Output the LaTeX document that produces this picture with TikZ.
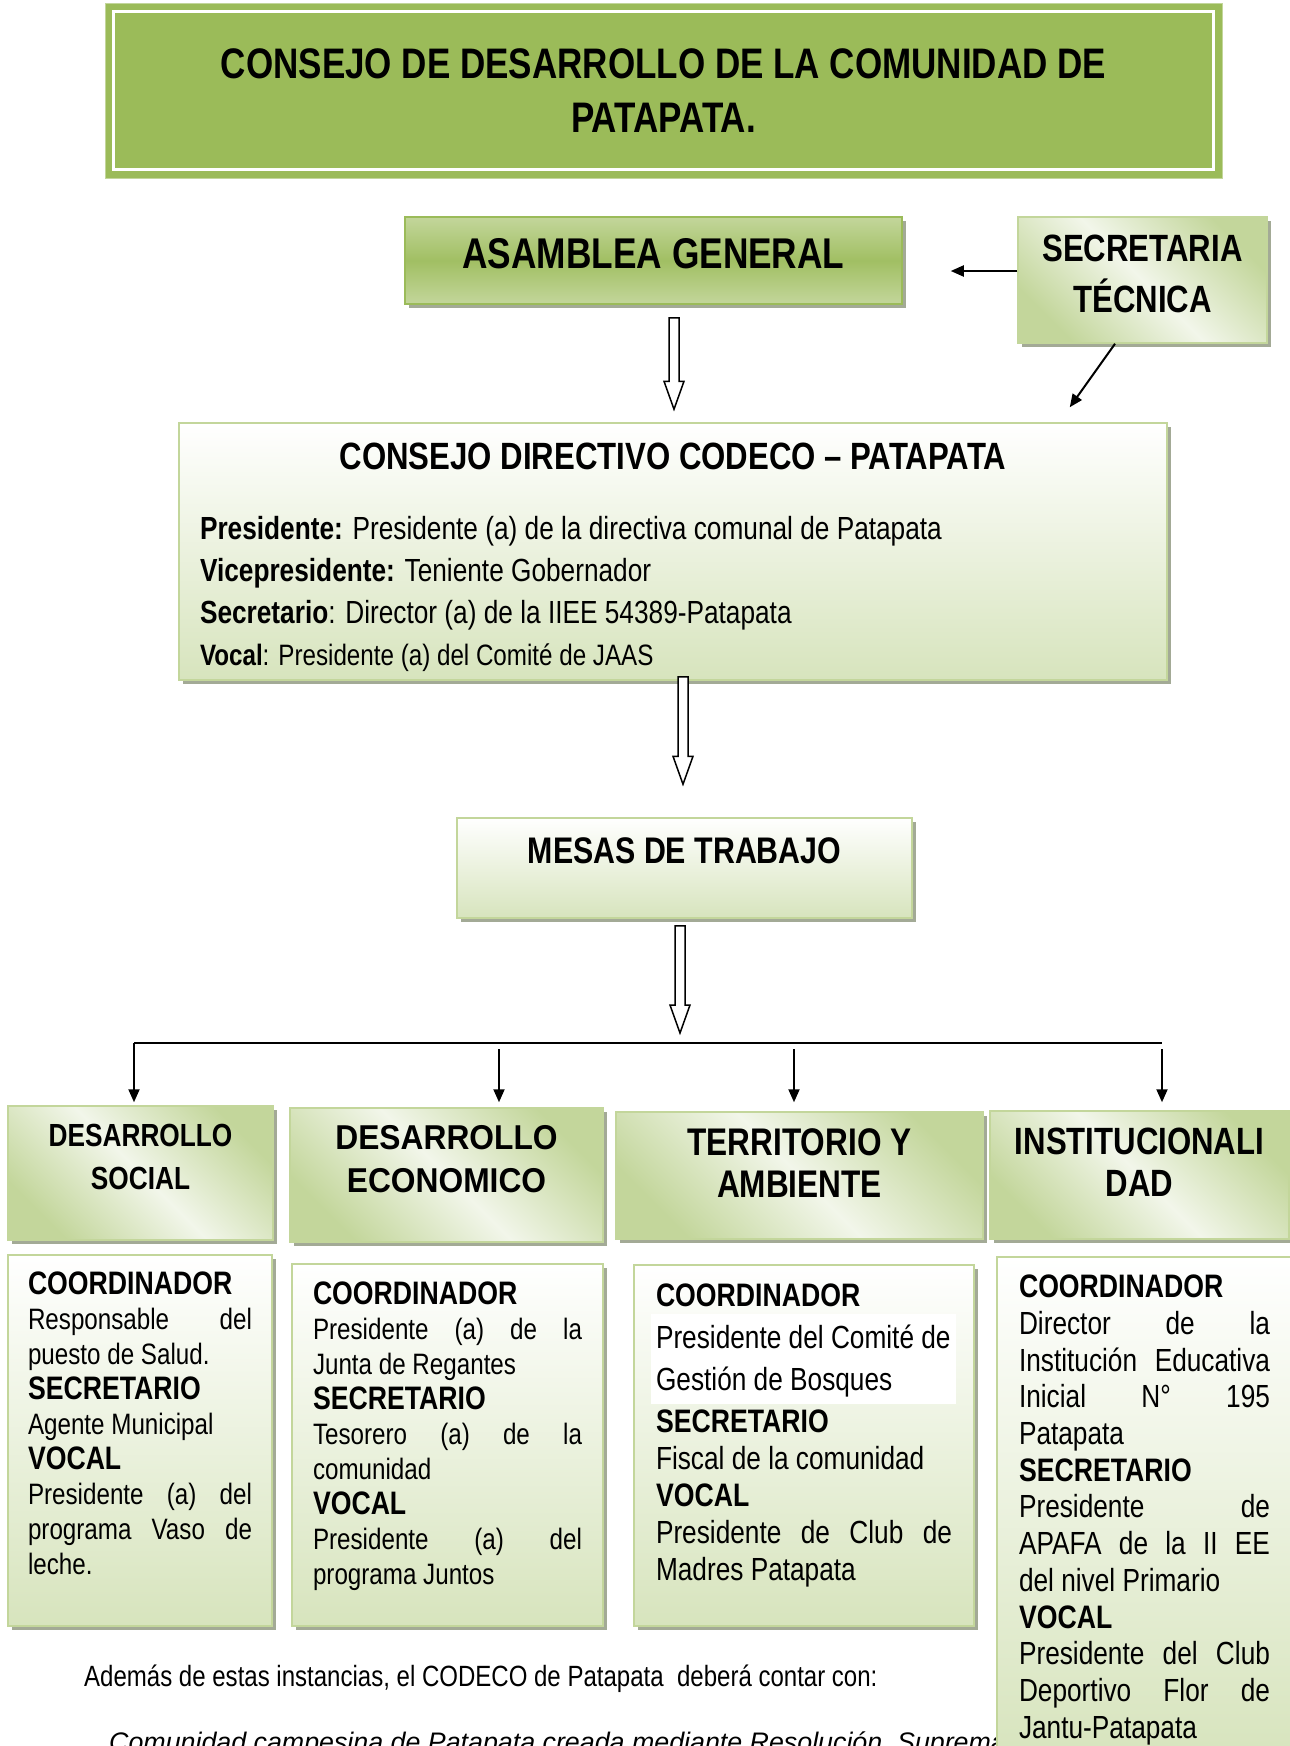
\documentclass[tikz,border=0pt]{standalone}
\usepackage{fontspec}
\setmainfont{Liberation Sans}[FakeStretch=0.82]
\newfontfamily\wideface{Liberation Sans}[FakeStretch=0.92]
\newfontfamily\plainface{Liberation Sans}
\usetikzlibrary{arrows.meta,calc,shadows}

\definecolor{olive}{HTML}{9BBB59}
\definecolor{olivelt}{HTML}{C3D69B}
\definecolor{olivepale}{HTML}{D7E4BD}
\definecolor{olivewash}{HTML}{F2F6EA}
\definecolor{shadowgrey}{HTML}{A3AA96}

\newcommand\setfs[2]{\fontsize{#1}{#2}\selectfont}
\newcommand\role[1]{{\setfs{32.5}{35}\bfseries #1}}
\newcommand\spread{\hskip 0pt plus 1filll\relax}
\newcommand\panelbox[3]{\vbox to #2{\hsize=#1\relax\parindent=0pt\parskip=0pt\lineskiplimit=-100pt\relax #3\par\vfil}}
% hollow block arrow pointing down, from #1 to #2
\newcommand\hollowdown[2]{%
  \draw[hollow] let \p1=(#1), \p2=(#2) in
    (\x1-5pt,\y1) -- (\x1-5pt,\y2+28pt) -- (\x1-10pt,\y2+28pt) -- (\x1,\y2)
    -- (\x1+10pt,\y2+28pt) -- (\x1+5pt,\y2+28pt) -- (\x1+5pt,\y1) -- cycle;}

\tikzset{
  boxshadow/.style={general shadow={fill=shadowgrey, shadow xshift=4pt, shadow yshift=-4pt}},
  panel/.style={rectangle, draw=olivelt, line width=1.5pt, boxshadow, inner sep=0pt},
  pale/.style={panel, top color=white, bottom color=olivepale},
  diag/.style={panel, top color=olivelt, bottom color=olivelt, middle color=olivewash, shading angle=-45},
  asamblea/.style={panel, draw=olive, top color=olivelt, bottom color=olivelt, middle color=olive!85!olivelt},
  titlebox/.style={rectangle, fill=olive, draw=olivelt, line width=1pt},
  link/.style={line width=2pt, -{Triangle[length=13pt,width=11pt]}},
  hollow/.style={draw=black, fill=white, line width=1.5pt, line join=miter}
}

\begin{document}
\begin{tikzpicture}[x=1pt,y=-1pt]
\useasboundingbox (0,0) rectangle (1290,1746);
\clip (0,0) rectangle (1290,1746);

% heading
\node[titlebox, minimum width=1117pt, minimum height=175pt, align=center,
  font=\setfs{42.7}{54}\bfseries] (title) at (663.5,90.5)
  {CONSEJO DE DESARROLLO DE LA COMUNIDAD DE\\PATAPATA.};
\draw[white, line width=3pt] ($(title.north west)+(9,9)$) rectangle ($(title.south east)+(-9,-9)$);

% top levels
\node[asamblea, minimum width=497pt, minimum height=87pt, text depth=14pt,
  font=\setfs{43}{50}\bfseries] (asam) at (653.5,260.5) {ASAMBLEA GENERAL};
\node[diag] (sec) at (1142.5,280)
  {\panelbox{249pt}{126pt}{\centering\setfs{38}{51}\bfseries\vskip17.5pt SECRETARIA\\TÉCNICA}};

\node[pale, inner xsep=21pt] (cons) at (673,551.5)
  {\panelbox{946pt}{257pt}{\vskip20pt
    {\centering\setfs{38}{42}\bfseries CONSEJO DIRECTIVO CODECO – PATAPATA\par}
    \vskip28pt\raggedright\setfs{32}{42}%
    \textbf{Presidente:} Presidente (a) de la directiva comunal de Patapata\\
    \textbf{Vicepresidente:} Teniente Gobernador\\
    \textbf{Secretario}: Director (a) de la IIEE 54389-Patapata\\
    {\setfs{29.5}{42}\textbf{Vocal}: Presidente (a) del Comité de JAAS}}};

\node[pale, minimum width=455pt, minimum height=100pt, text depth=34pt,
  font=\setfs{37}{44}\bfseries] (mesas) at (684.5,868) {MESAS DE TRABAJO};

% mesas
\node[diag] (soc) at (140.5,1173)
  {\panelbox{265pt}{134pt}{\centering\setfs{32}{43}\bfseries\vskip18.5pt DESARROLLO\\SOCIAL}};
\node[diag] (eco) at (446.5,1175)
  {\panelbox{313pt}{134pt}{\centering\wideface\setfs{34.5}{43}\bfseries\vskip17.5pt DESARROLLO\\ECONOMICO}};
\node[diag] (ter) at (799.5,1175.5)
  {\panelbox{367pt}{127pt}{\centering\setfs{38.5}{42}\bfseries\vskip17pt TERRITORIO Y\\AMBIENTE}};
\node[diag] (ins) at (1139.5,1175)
  {\panelbox{299pt}{128pt}{\centering\setfs{38}{42}\bfseries\vskip16.5pt INSTITUCIONALI\\DAD}};

% members
\node[pale, inner xsep=20pt] (socb) at (140,1440.5)
  {\panelbox{224pt}{371pt}{\raggedright\setfs{29.5}{35}\vskip17pt
    \role{COORDINADOR}\\ Responsable\spread del\\ puesto de Salud.\\
    \role{SECRETARIO}\\ Agente Municipal\\
    \role{VOCAL}\\ Presidente\spread (a)\spread del\\ programa\spread Vaso\spread de\\ leche.}};
\node[pale, inner xsep=21pt] (ecob) at (447.5,1445)
  {\panelbox{269pt}{362pt}{\raggedright\setfs{29.5}{35}\vskip18pt
    \role{COORDINADOR}\\ Presidente\spread (a)\spread de\spread la\\ Junta de Regantes\\
    \role{SECRETARIO}\\ Tesorero\spread (a)\spread de\spread la\\ comunidad\\
    \role{VOCAL}\\ Presidente\spread (a)\spread del\\ programa Juntos}};
\node[pale, inner xsep=22pt,
  path picture={\fill[white] ($(path picture bounding box.north west)+(17,49)$) rectangle ++(305,90);}]
  (terb) at (804,1445.5)
  {\panelbox{296pt}{361pt}{\raggedright\setfs{32}{37}\vskip19pt
    \role{COORDINADOR}\\[5pt] Presidente del Comité de\\[5pt] Gestión de Bosques\\[5pt]
    \role{SECRETARIO}\\ Fiscal de la comunidad\\
    \role{VOCAL}\\ Presidente\spread de\spread Club\spread de\\ Madres Patapata}};

\node[anchor=base west, inner sep=0pt, font=\setfs{29.3}{34}] (nota) at (84,1686)
  {Además de estas instancias, el CODECO de Patapata\ \ deberá contar con:};
\node[anchor=base west, inner sep=0pt, font=\plainface\setfs{26.8}{34}\itshape] (cita) at (109,1751)
  {Comunidad campesina de Patapata creada mediante Resolución\ \ Suprema};

\node[pale, inner xsep=22pt] (insb) at (1144.5,1508.5)
  {\panelbox{251pt}{503pt}{\raggedright\setfs{32}{36.7}\vskip18pt
    \role{COORDINADOR}\\ Director\spread de\spread la\\ Institución\spread Educativa\\
    Inicial\spread N°\spread 195\\ Patapata\\
    \role{SECRETARIO}\\ Presidente\spread de\\ APAFA\spread de\spread la\spread II\spread EE\\ del nivel Primario\\
    \role{VOCAL}\\ Presidente\spread del\spread Club\\ Deportivo\spread Flor\spread de\\ Jantu-Patapata}};

% connectors
\coordinate (secend) at ($(asam.east)+(48,10.5)$);
\coordinate (secdown) at ($(cons.north east)+(-98,-15)$);
\draw[link] ($(sec.west)+(0,-9)$) -- (secend);
\draw[link] ($(sec.south)+(-27.5,0)$) -- (secdown);

\hollowdown{$(asam.south)+(20.5,13)$}{$(cons.north)+(1,-13)$}
\hollowdown{$(cons.south)+(10,-4)$}{$(mesas.north)+(-1.5,-33)$}

\coordinate (busl) at (134,1043);
\coordinate (busr) at (1162,1043);
\hollowdown{$(mesas.south)+(-4.5,7)$}{$(busl)+(546,-10)$}
\draw[line width=2pt] (busl) -- (busr);
\draw[link] (busl) -- ($(soc.north)+(-6.5,-3)$);
\foreach \n/\dx/\a/\b in {eco/52.5/58/5, ter/-5.5/62/9, ins/22.5/61/8}
  \draw[link] ($(\n.north)+(\dx,-\a)$) -- ($(\n.north)+(\dx,-\b)$);
\end{tikzpicture}
\end{document}
